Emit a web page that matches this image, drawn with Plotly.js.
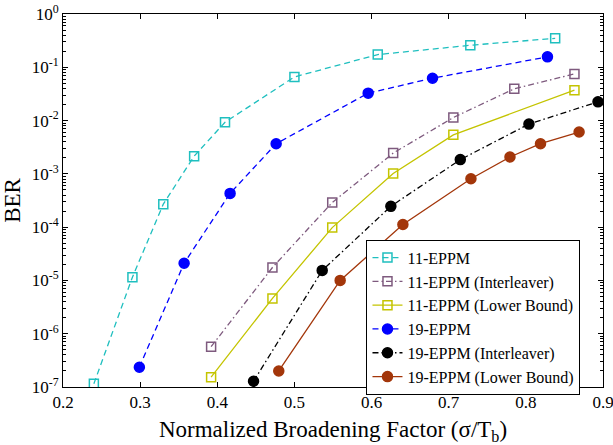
<!DOCTYPE html>
<html>
<head>
<meta charset="utf-8">
<script src="https://cdn.plot.ly/plotly-3.0.1.min.js"></script>
<style>
body{margin:0;background:#fff}
#chart{width:613px;height:445px}
</style>
</head>
<body>
<div id="chart"></div>
<script>
// Series data
var x11 = [0.24, 0.29, 0.33, 0.37, 0.41, 0.50, 0.608, 0.728, 0.838];
var y11 = [1.15e-7, 1.15e-5, 2.7e-4, 2.15e-3, 9.3e-3, 0.066, 0.173, 0.259, 0.35];

var x11i = [0.392, 0.4715, 0.549, 0.628, 0.706, 0.785, 0.863];
var y11i = [5.7e-7, 1.75e-5, 2.9e-4, 2.45e-3, 0.0114, 0.0394, 0.075];

var x11lb = [0.392, 0.4715, 0.549, 0.628, 0.706, 0.863];
var y11lb = [1.53e-7, 4.6e-6, 9.8e-5, 1.02e-3, 5.4e-3, 0.0372];

var x19 = [0.299, 0.357, 0.4166, 0.4763, 0.5956, 0.679, 0.828];
var y19 = [2.35e-7, 2.1e-5, 4.3e-4, 3.68e-3, 0.0327, 0.0624, 0.157];

var x19i = [0.447, 0.536, 0.625, 0.715, 0.804, 0.8935];
var y19i = [1.28e-7, 1.54e-5, 2.46e-4, 1.85e-3, 8.6e-3, 0.0225];

var x19lb = [0.4797, 0.5593, 0.6406, 0.7288, 0.7794, 0.819, 0.869];
var y19lb = [2.0e-7, 1.0e-5, 1.12e-4, 8.1e-4, 2.07e-3, 3.68e-3, 6.1e-3];

var names = ['11-EPPM', '11-EPPM (Interleaver)', '11-EPPM (Lower Bound)',
             '19-EPPM', '19-EPPM (Interleaver)', '19-EPPM (Lower Bound)'];

var xTickVals = [0.2, 0.3, 0.4, 0.5, 0.6, 0.7, 0.8, 0.9];
var xTickText = ['0.2', '0.3', '0.4', '0.5', '0.6', '0.7', '0.8', '0.9'];
var yExps = [-7, -6, -5, -4, -3, -2, -1, 0];

var yTickVals = yExps.map(function (e) { return Math.pow(10, e); });
var yTickText = yExps.map(function (e) { return '10<sup>' + e + '</sup>'; });
var yMinor = [];
yExps.slice(0, -1).forEach(function (e) {
  for (var k = 2; k <= 9; k++) yMinor.push(k * Math.pow(10, e));
});

function tr(x, y, name, color, dash, symbol, size) {
  return {
    x: x, y: y, name: name, type: 'scatter', mode: 'lines+markers',
    line: {color: color, width: 1.3, dash: dash},
    marker: {symbol: symbol, size: size, color: color, line: {color: color, width: 1.5}}
  };
}

var cCyan = '#1fbfbf', cPurp = '#7e5a7e', cYel = '#c4c400',
    cBlue = '#0000ff', cBlk = '#000000', cBrn = '#a3360a';

var data = [
  tr(x11, y11, names[0], cCyan, '6px,4px', 'square-open', 9),
  tr(x11i, y11i, names[1], cPurp, '6px,3px,1.5px,3px', 'square-open', 9),
  tr(x11lb, y11lb, names[2], cYel, 'solid', 'square-open', 9),
  tr(x19, y19, names[3], cBlue, '6px,4px', 'circle', 10),
  tr(x19i, y19i, names[4], cBlk, '6px,3px,1.5px,3px', 'circle', 10),
  tr(x19lb, y19lb, names[5], cBrn, 'solid', 'circle', 10)
];

var serif = 'Liberation Serif, serif';

var layout = {
  width: 613, height: 445,
  margin: {l: 63, r: 10, t: 14, b: 58},
  paper_bgcolor: '#fff', plot_bgcolor: '#fff',
  font: {family: serif, color: '#000', size: 17},
  showlegend: true,
  xaxis: {
    range: [0.2, 0.9],
    tickmode: 'array', tickvals: xTickVals, ticktext: xTickText,
    ticks: 'inside', ticklen: 5, tickcolor: '#000',
    ticklabeloverflow: 'allow',
    showline: true, linecolor: '#000', linewidth: 1, mirror: 'allticks',
    showgrid: false, zeroline: false,
    tickfont: {family: serif, size: 17},
    title: {text: 'Normalized Broadening Factor (σ/T<sub>b</sub>)', font: {family: serif, size: 23}, standoff: 9}
  },
  yaxis: {
    type: 'log', range: [-7, 0],
    tickmode: 'array', tickvals: yTickVals, ticktext: yTickText,
    ticks: 'inside', ticklen: 5, tickcolor: '#000',
    minor: {tickmode: 'array', tickvals: yMinor, ticks: 'inside', ticklen: 3, tickcolor: '#000', showgrid: false},
    showline: true, linecolor: '#000', linewidth: 1, mirror: 'allticks',
    showgrid: false, zeroline: false,
    tickfont: {family: serif, size: 17},
    title: {text: 'BER', font: {family: serif, size: 23}, standoff: 6}
  },
  legend: {
    x: 0.562, y: 0.395, xanchor: 'left', yanchor: 'top',
    bgcolor: '#fff', bordercolor: '#000', borderwidth: 1,
    font: {family: serif, size: 16},
    tracegroupgap: 0, itemwidth: 30
  }
};

Plotly.newPlot('chart', data, layout, {displayModeBar: false, staticPlot: true});
</script>
</body>
</html>
